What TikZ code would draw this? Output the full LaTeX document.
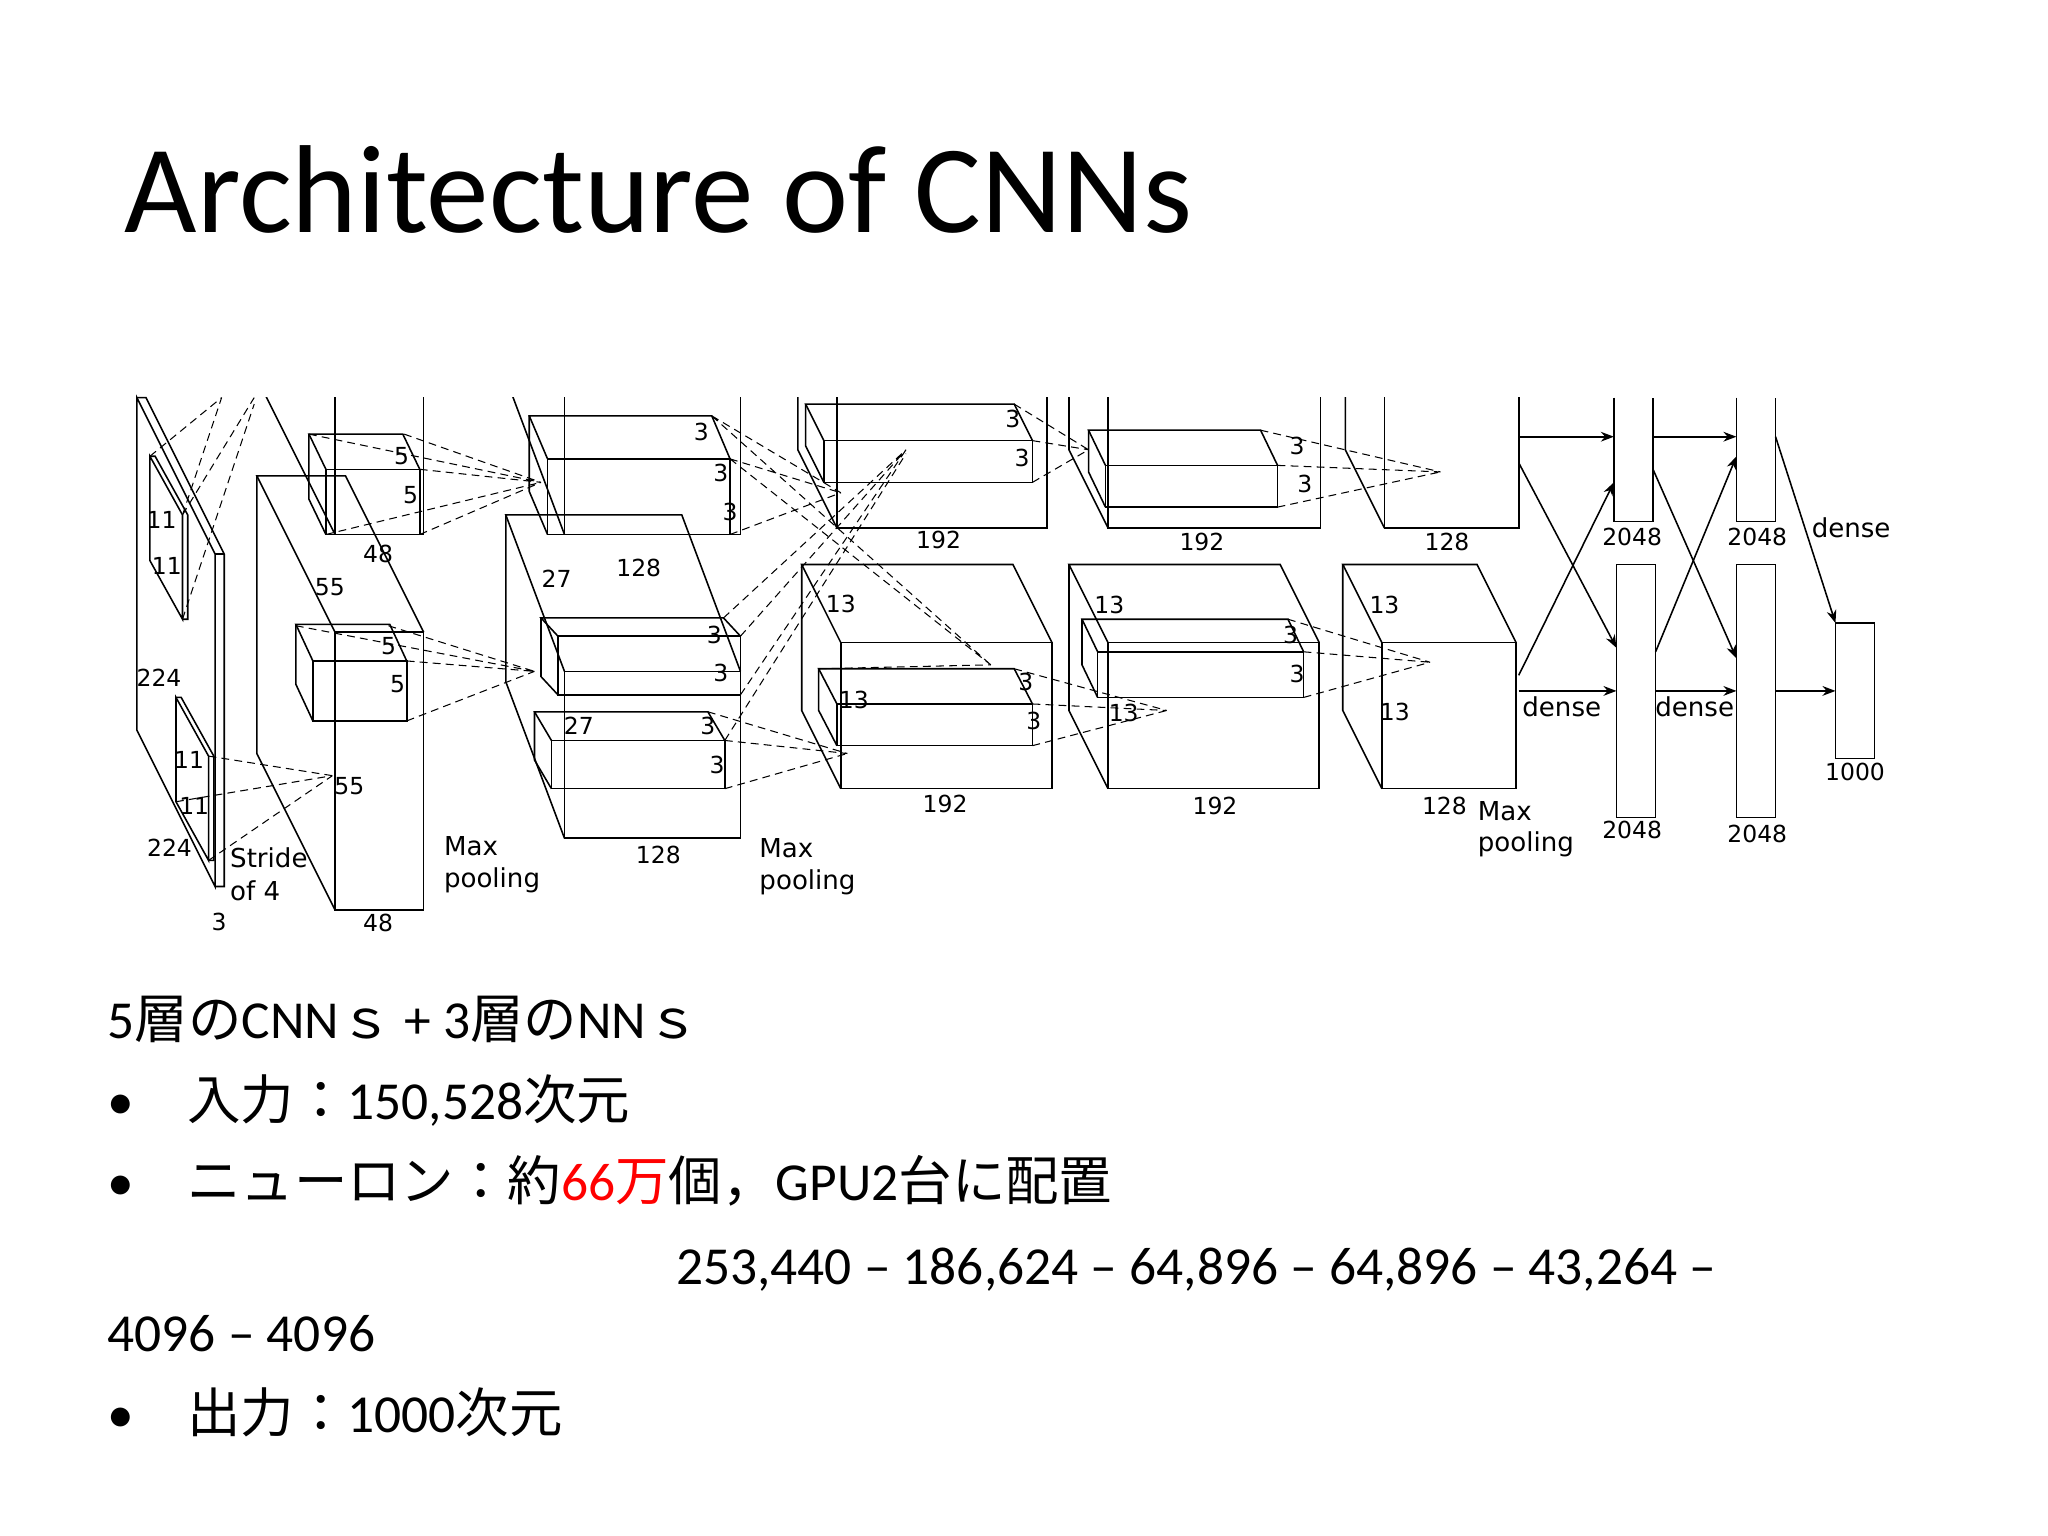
\documentclass[tikz,border=0pt]{standalone}
\usepackage{fontspec}
\setmainfont{Carlito}
\newfontfamily\jp{Noto Sans CJK JP}
\newfontfamily\lab{DejaVu Sans}
\usetikzlibrary{arrows.meta}
\newcommand\cub[6]{%
 \draw (#1,#2) rectangle ++(#3,#4);
 \draw (#1,#2) -- (#1-#5,#2-#6) -- (#1+#3-#5,#2-#6) -- (#1+#3,#2);
 \draw (#1-#5,#2-#6) -- (#1-#5,#2+#4-#6) -- (#1,#2+#4);}
\begin{document}
\begin{tikzpicture}[x=0.5pt,y=-0.5pt,line width=0.6pt,
 lb/.style={font=\lab\fontsize{9}{10}\selectfont,inner sep=0.5pt},
 dl/.style={densely dashed,line width=0.4pt},
 ar/.style={-{Stealth[length=5pt]},line width=0.6pt},
 body/.style={anchor=base west,font=\fontsize{20.5}{24}\selectfont,inner sep=0}]
\useasboundingbox[fill=white] (0,0) rectangle (1571,1178);
\node[anchor=base west,font=\fontsize{48}{56}\selectfont,inner sep=0] (title) at (95,178) {Architecture of CNNs};
% input
\draw (105,305) -- (165,425) -- (165,680) -- (105,560) -- cycle;
\draw (105,305) -- (112,305) -- (172,425) -- (172,680) -- (165,680);
\draw (165,425) -- (172,425);
\draw (115,350) -- (140,395) -- (140,475) -- (115,430) -- cycle;
\draw (115,350) -- (119,350) -- (144,395) -- (144,475) -- (140,475);
\draw (135,535) -- (160,580) -- (160,660) -- (135,615) -- cycle;
\draw (135,535) -- (139,535) -- (164,580) -- (164,660) -- (160,660);
\draw[dl] (115,350) -- (170,305) (140,395) -- (195,305) (140,475) -- (195,310) (140,395)--(170,305);
\draw[dl] (160,580) -- (255,595) (160,660) -- (255,595) (135,615)--(255,595);
\node[lb] (l1) at (124,399) {11}; \node[lb] (l2) at (128,434) {11};
\node[lb] (l3) at (145,583) {11}; \node[lb] (l4) at (149,618) {11};
\node[lb] (l5) at (122,520) {224}; \node[lb] (l6) at (130,650) {224};
\node[lb] (l7) at (168,707) {3};
% layer1
\begin{scope}
\clip (0,305) rectangle (1552,1164);
\cub{257}{245}{68}{165}{60}{120}
\cub{433}{250}{135}{160}{45}{120}
\cub{642}{245}{161}{160}{30}{60}
\cub{850}{245}{163}{160}{30}{60}
\cub{1062}{245}{103}{160}{30}{60}
\end{scope}
\cub{257}{485}{68}{213}{60}{120}
\cub{250}{360}{72}{50}{13}{27}
\cub{240}{507}{72}{46}{13}{28}
\node[lb] at (308,350) {5}; \node[lb] at (315,380) {5};
\node[lb] at (298,496) {5}; \node[lb] at (305,525) {5};
\node[lb] at (290,425) {48}; \node[lb] at (253,450) {55};
\node[lb] at (268,603) {55}; \node[lb] at (290,708) {48};
\node[lb,anchor=west,font=\lab\fontsize{10}{12}\selectfont] at (175,658) {Stride};
\node[lb,anchor=west,font=\lab\fontsize{10}{12}\selectfont] at (175,683) {of 4};
\node[lb,anchor=west,font=\lab\fontsize{10}{12}\selectfont] at (339,649) {Max};
\node[lb,anchor=west,font=\lab\fontsize{10}{12}\selectfont] at (339,675) {pooling};
\draw[dl] (237,333)--(415,370) (310,333)--(415,370) (322,360)--(415,370) (322,410)--(415,370) (250,410)--(415,370);
\draw[dl] (227,480)--(410,515) (298,480)--(410,515) (312,507)--(410,515) (312,553)--(410,515);
% layer2
\cub{433}{515}{135}{128}{45}{120}
\cub{420}{352}{140}{58}{14}{33}
\cub{428}{488}{140}{45}{13}{14}
\cub{423}{568}{133}{37}{13}{22}
\node[lb] at (538,331) {3}; \node[lb] at (553,363) {3}; \node[lb] at (560,393) {3};
\node[lb] at (548,487) {3}; \node[lb] at (553,516) {3};
\node[lb] at (543,557) {3}; \node[lb] at (550,587) {3};
\node[lb] at (427,444) {27}; \node[lb] at (490,436) {128};
\node[lb] at (444,557) {27}; \node[lb] at (505,656) {128};
\node[lb,anchor=west,font=\lab\fontsize{10}{12}\selectfont] at (581,651) {Max};
\node[lb,anchor=west,font=\lab\fontsize{10}{12}\selectfont] at (581,677) {pooling};
\draw[dl] (546,319)--(645,378) (560,352)--(645,378) (560,410)--(645,378) (546,319)--(760,510) (560,352)--(760,510);
\draw[dl] (555,474)--(695,345) (568,488)--(695,345) (568,533)--(695,345);
\draw[dl] (543,546)--(650,578) (556,568)--(650,578) (556,605)--(650,578) (556,568)--(695,348);
% layer3
\cub{645}{493}{162}{112}{30}{60}
\cub{632}{338}{160}{32}{14}{28}
\cub{642}{540}{150}{32}{14}{27}
\node[lb] at (777,321) {3}; \node[lb] at (784,351) {3};
\node[lb] at (787,523) {3}; \node[lb] at (793,553) {3};
\node[lb] at (720,414) {192}; \node[lb] at (645,463) {13};
\node[lb] at (655,537) {13}; \node[lb] at (725,617) {192};
\draw[dl] (778,310)--(835,345) (792,338)--(835,345) (792,370)--(835,345);
\draw[dl] (778,513)--(895,545) (792,540)--(895,545) (792,572)--(895,545) (628,513)--(760,510);
% layer4
\cub{850}{493}{162}{112}{30}{60}
\cub{848}{357}{132}{32}{13}{27}
\cub{842}{500}{158}{35}{12}{25}
\node[lb] at (995,342) {3}; \node[lb] at (1001,371) {3};
\node[lb] at (990,487) {3}; \node[lb] at (995,517) {3};
\node[lb] at (922,416) {192}; \node[lb] at (851,464) {13};
\node[lb] at (862,547) {13}; \node[lb] at (932,618) {192};
\draw[dl] (967,330)--(1105,362) (980,357)--(1105,362) (980,389)--(1105,362);
\draw[dl] (988,475)--(1097,508) (1000,500)--(1097,508) (1000,535)--(1097,508);
% layer5
\cub{1060}{493}{103}{112}{30}{60}
\node[lb] at (1110,416) {128}; \node[lb] at (1062,464) {13};
\node[lb] at (1070,546) {13}; \node[lb] at (1108,618) {128};
\node[lb,anchor=west,font=\lab\fontsize{10}{12}\selectfont] at (1132,622) {Max};
\node[lb,anchor=west,font=\lab\fontsize{10}{12}\selectfont] at (1132,648) {pooling};
% dense
\draw (1238,305) -- (1238,400) -- (1268,400) -- (1268,305);
\draw (1332,305) -- (1332,400) -- (1362,400) -- (1362,305);
\draw (1240,433) rectangle (1270,627);
\draw (1332,433) rectangle (1362,627);
\draw (1408,478) rectangle (1438,582);
\node[lb] at (1252,412) {2048}; \node[lb] at (1348,412) {2048};
\node[lb] at (1252,637) {2048}; \node[lb] at (1348,640) {2048};
\node[lb] at (1423,592) {1000};
\node[lb,font=\lab\fontsize{10}{12}\selectfont] at (1198,542) {dense};
\node[lb,font=\lab\fontsize{10}{12}\selectfont] at (1300,542) {dense};
\node[lb,font=\lab\fontsize{10}{12}\selectfont] at (1420,405) {dense};
\draw[ar] (1165,335)--(1238,335); \draw[ar] (1165,355)--(1240,497);
\draw[ar] (1165,518)--(1238,370); \draw[ar] (1165,530)--(1240,530);
\draw[ar] (1268,335)--(1332,335); \draw[ar] (1268,360)--(1332,505);
\draw[ar] (1270,500)--(1332,350); \draw[ar] (1270,530)--(1332,530);
\draw[ar] (1362,335)--(1408,478); \draw[ar] (1362,530)--(1408,530);
% text
\node[body] (t1) at (82,797) {5{\jp 層の}CNN{\jp ｓ} + 3{\jp 層の}NN{\jp ｓ}};
\node[body] (b1) at (82,859) {•}; \node[body] (t2) at (143,859) {{\jp 入力：}150,528{\jp 次元}};
\node[body] (b2) at (82,921) {•}; \node[body] (t3) at (143,921) {{\jp ニューロン：約}\textcolor{red}{66{\jp 万}}{\jp 個，}GPU2{\jp 台に配置}};
\node[body] (t4) at (518,985) {253,440 – 186,624 – 64,896 – 64,896 – 43,264 –};
\node[body] (t5) at (82,1037) {4096 – 4096};
\node[body] (b3) at (82,1099) {•}; \node[body] (t6) at (143,1099) {{\jp 出力：}1000{\jp 次元}};
\end{tikzpicture}
\end{document}
